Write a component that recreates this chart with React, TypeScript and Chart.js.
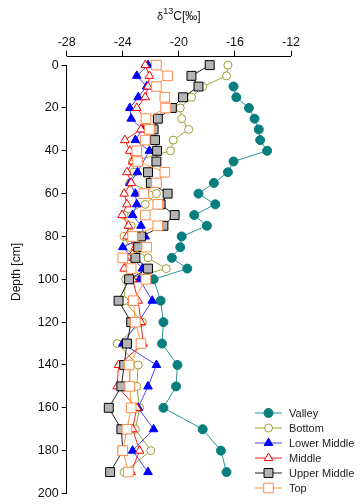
import React, { useEffect, useRef } from 'react';
import { Chart, registerables } from 'chart.js';
import { drawPoint } from 'chart.js/helpers';

Chart.register(...registerables);

// Depth of each sample [cm]
const DEPTHS = [0, 5, 10, 15, 20, 25, 30, 35, 40, 45, 50, 55, 60, 65, 70, 75, 80, 85, 90, 95, 100, 110, 120, 130, 140, 150, 160, 170, 180, 190];

// δ13C [‰] per series (null = no sample)
const VALLEY = [null, null, -16.1, -15.9, -15.0, -14.6, -14.3, -14.2, -13.7, -16.1, -16.5, -17.5, -18.6, -17.4, -18.9, -18.0, -19.8, -19.9, -20.5, -19.4, -21.8, -21.3, -21.1, -21.2, -20.1, -20.2, -21.1, -18.3, -17.0, -16.6];
const BOTTOM = [-16.5, -16.6, -18.3, -19.1, -19.9, -19.8, -19.3, -20.4, -20.6, -23.3, -23.2, -23.5, -21.6, -22.4, -23.9, -23.4, -23.9, -23.5, -22.2, -20.9, -23.8, -23.9, -22.6, -24.4, -22.9, -23.0, -22.8, -23.1, -22.0, -23.9];
const LOWER_MIDDLE = [-22.2, -23.0, -22.3, -22.9, -23.5, -23.4, -22.6, -23.1, -22.1, null, -22.95, -23.5, -23.1, -23.0, -23.3, -22.7, -22.4, -24.0, null, -22.6, -22.8, -21.9, -22.9, -24.0, -21.6, -22.2, -22.9, -21.8, -23.3, -22.2];
const MIDDLE = [-22.4, -22.1, -22.2, -22.4, -23.0, -22.4, -22.7, -23.85, -23.5, -23.3, -23.7, -23.4, -23.9, -23.7, -24.05, -23.6, -23.7, -23.1, -23.8, -23.9, -23.3, -22.9, -22.7, -22.55, -24.3, -24.4, -23.0, -23.3, -22.8, -23.4];
const UPPER_MIDDLE = [-17.8, -19.1, -18.6, -19.7, -20.5, -21.5, -21.8, -21.7, -21.55, -21.6, -22.2, -22.0, -20.8, -21.3, -20.3, -21.1, -22.7, -22.9, -23.1, -22.2, -23.55, -24.3, -23.4, -23.7, -23.9, -24.1, -25.0, -24.1, -24.0, -24.9];
const TOP = [-21.6, -20.8, -21.6, -21.0, -20.95, -22.35, -22.1, -22.4, -23.0, -22.95, -21.0, -21.6, -22.5, -21.5, -22.4, -21.5, -23.3, -22.3, -24.0, -23.4, -22.35, -23.25, -23.1, -22.7, -23.55, -23.5, -23.4, -23.7, -24.0, -23.6];

const LABELS = ['Valley', 'Bottom', 'Lower Middle', 'Middle', 'Upper Middle', 'Top'];
const X_TICKS = [-28, -24, -20, -16, -12];
const Y_TICKS = [0, 20, 40, 60, 80, 100, 120, 140, 160, 180, 200];

const FONT = 'Arial, "Liberation Sans", sans-serif';

const STYLES = [
  { line: '#2b9494', fill: '#077e7e', stroke: '#077e7e', pointStyle: 'circle', radius: 4.5 },
  { line: '#a3a33a', fill: '#ffffff', stroke: '#9c9c2e', pointStyle: 'circle', radius: 4 },
  { line: '#4747ff', fill: '#0000ff', stroke: '#0000ff', pointStyle: 'triangle', radius: 5 },
  { line: '#ff2020', fill: '#ffffff', stroke: '#ff0000', pointStyle: 'triangle', radius: 5 },
  { line: '#222222', fill: '#b4b4b4', stroke: '#000000', pointStyle: 'rect', radius: 6.3 },
  { line: '#ff9a3c', fill: '#ffffff', stroke: '#ff8a4a', pointStyle: 'rect', radius: 6.8 },
];

const SERIES = [VALLEY, BOTTOM, LOWER_MIDDLE, MIDDLE, UPPER_MIDDLE, TOP];

const decorPlugin = {
  id: 'decor',
  afterDraw(chart: any) {
    const { ctx, chartArea, scales } = chart;
    const xs = scales.x;
    const ys = scales.y;
    ctx.save();
    ctx.strokeStyle = '#000';
    ctx.lineWidth = 1;
    const top = Math.round(chartArea.top) + 0.5;
    const left = Math.round(chartArea.left) - 0.5;
    ctx.beginPath();
    ctx.moveTo(xs.getPixelForValue(X_TICKS[0]), top);
    ctx.lineTo(xs.getPixelForValue(X_TICKS[X_TICKS.length - 1]), top);
    ctx.stroke();
    ctx.beginPath();
    ctx.moveTo(left, ys.getPixelForValue(Y_TICKS[0]));
    ctx.lineTo(left, ys.getPixelForValue(Y_TICKS[Y_TICKS.length - 1]));
    ctx.stroke();

    // x title: δ13C[‰]
    ctx.fillStyle = '#111';
    ctx.textBaseline = 'alphabetic';
    ctx.textAlign = 'left';
    const p1 = 'δ', p2 = '13', p3 = 'C[‰]';
    ctx.font = `11px ${FONT}`;
    const w1 = ctx.measureText(p1).width;
    ctx.font = `9px ${FONT}`;
    const w2 = ctx.measureText(p2).width;
    ctx.font = `12px ${FONT}`;
    const w3 = ctx.measureText(p3).width;
    const cx = (chartArea.left + chartArea.right) / 2;
    let tx = cx - (w1 + w2 + w3) / 2;
    const base = 20;
    ctx.font = `11px ${FONT}`;
    ctx.fillText(p1, tx, base);
    tx += w1;
    ctx.font = `9px ${FONT}`;
    ctx.fillText(p2, tx, base - 6);
    tx += w2;
    ctx.font = `12px ${FONT}`;
    ctx.fillText(p3, tx, base);

    // y title
    ctx.save();
    ctx.translate(17, 272);
    ctx.rotate(-Math.PI / 2);
    ctx.textAlign = 'center';
    ctx.textBaseline = 'middle';
    ctx.font = `12px ${FONT}`;
    ctx.fillText('Depth [cm]', 0, 0);
    ctx.restore();

    // legend
    const lx0 = 255, lx1 = 282, ly0 = 413, step = 15;
    ctx.font = `11px ${FONT}`;
    ctx.textBaseline = 'middle';
    ctx.textAlign = 'left';
    LABELS.forEach((label, i) => {
      const st = STYLES[i];
      const yy = ly0 + i * step;
      ctx.strokeStyle = st.line;
      ctx.lineWidth = 1;
      ctx.beginPath();
      ctx.moveTo(lx0, yy);
      ctx.lineTo(lx1, yy);
      ctx.stroke();
      ctx.fillStyle = st.fill;
      ctx.strokeStyle = st.stroke;
      ctx.lineWidth = 1;
      drawPoint(ctx, { pointStyle: st.pointStyle, radius: st.radius, rotation: 0, borderWidth: 1 } as any, (lx0 + lx1) / 2, yy);
      ctx.fillStyle = '#222';
      ctx.fillText(label, 289, yy + 0.5);
    });
    ctx.restore();
  },
};

export default function App() {
  const ref = useRef<HTMLCanvasElement | null>(null);

  useEffect(() => {
    if (!ref.current) return;
    const datasets = SERIES.map((vals, i) => {
      const st = STYLES[i];
      const data = DEPTHS.map((d, k) => (vals[k] == null ? null : { x: vals[k], y: d })).filter((p) => p !== null);
      return {
        label: LABELS[i],
        data,
        showLine: true,
        borderColor: st.line,
        borderWidth: 1,
        pointBackgroundColor: st.fill,
        pointBorderColor: st.stroke,
        pointBorderWidth: 1,
        pointStyle: st.pointStyle,
        pointRadius: st.radius,
        pointHoverRadius: st.radius,
        order: LABELS.length - 1 - i,
        spanGaps: true,
      };
    });

    const chart = new Chart(ref.current, {
      type: 'scatter',
      data: { datasets: datasets as any },
      options: {
        animation: false,
        responsive: false,
        maintainAspectRatio: false,
        layout: { padding: { left: 0, top: 0, right: 69, bottom: 9 } },
        plugins: { legend: { display: false }, tooltip: { enabled: false } },
        scales: {
          x: {
            type: 'linear',
            position: 'top',
            min: X_TICKS[0],
            max: X_TICKS[X_TICKS.length - 1],
            afterBuildTicks: (s: any) => { s.ticks = X_TICKS.map((v) => ({ value: v })); },
            afterFit: (s: any) => { s.height = 55.7; },
            border: { display: false },
            grid: { display: true, drawOnChartArea: false, drawTicks: true, tickLength: 5, color: '#000' },
            ticks: { color: '#111', font: { family: FONT, size: 12.5 }, padding: 1, maxRotation: 0 },
          },
          y: {
            type: 'linear',
            reverse: true,
            min: -4.4,
            max: 200,
            afterBuildTicks: (s: any) => { s.ticks = Y_TICKS.map((v) => ({ value: v })); },
            afterFit: (s: any) => { s.width = 66.7; },
            border: { display: false },
            grid: { display: true, drawOnChartArea: false, drawTicks: true, tickLength: 5, color: '#000' },
            ticks: { color: '#111', font: { family: FONT, size: 12.5 }, padding: 3 },
          },
        },
      },
      plugins: [decorPlugin],
    } as any);
    return () => chart.destroy();
  }, []);

  return (
    <div style={{ position: 'fixed', left: 0, top: 0, width: 360, height: 504, background: '#fff' }}>
      <canvas ref={ref} width={360} height={504} style={{ display: 'block', width: 360, height: 504 }} />
    </div>
  );
}
